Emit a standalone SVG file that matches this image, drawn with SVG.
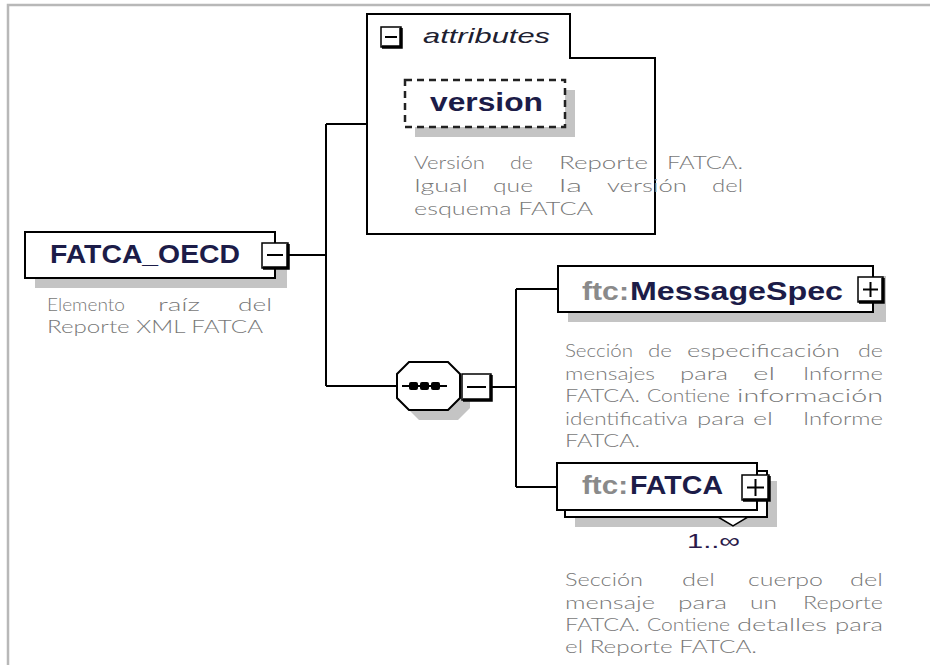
<svg xmlns="http://www.w3.org/2000/svg" width="930" height="665" viewBox="0 0 930 665">
<defs>
<style>
.frame{fill:none;stroke:#b8b8b8;stroke-width:2.5}
.box{fill:#fff;stroke:#000;stroke-width:2}
.shadow{fill:#c4c4c4;stroke:none}
.conn{fill:none;stroke:#000;stroke-width:2}
.btn{fill:#fff;stroke:#000;stroke-width:1.5}
.btnedge{fill:none;stroke:#000;stroke-width:3.5}
.sign{fill:none;stroke:#000;stroke-width:2}
.lbl{font-family:"Liberation Sans",Arial,sans-serif;font-weight:bold;font-size:25px;fill:#1c1c48}
.pfx{font-family:"Liberation Sans",Arial,sans-serif;font-weight:bold;font-size:25px;fill:#8a8a8a}
.it{font-family:"Liberation Sans",Arial,sans-serif;font-style:italic;font-size:21px;fill:#202030}
.card{font-family:"Liberation Sans",Arial,sans-serif;font-size:21px;fill:#2a1a4a}
.d{font-family:Lato,"Open Sans",sans-serif;font-weight:300;font-size:18px;fill:#787878}
</style>
</defs>

<path class="frame" d="M8,665 V5 H930"/>

<g id="connectors">
<path class="conn" d="M289,255 H326 M326,124 V386 M326,124 H367 M326,386 H397"/>
<path class="conn" d="M492,387 H516 M516,289 V487 M516,289 H558 M516,487 H557"/>
</g>

<g id="attributes">
<path class="box" d="M367,14 H570 V58 H655 V234 H367 Z"/>
<rect class="btn" x="381" y="27" width="20" height="20"/>
<path class="btnedge" d="M401,28 V47 H382"/>
<path class="sign" d="M385,37 H397"/>
<text class="it" x="423" y="43" textLength="127" lengthAdjust="spacingAndGlyphs">attributes</text>
</g>

<g id="version">
<rect class="shadow" x="415" y="90" width="160" height="47"/>
<rect x="405" y="80" width="160" height="47" fill="#fff" stroke="#222" stroke-width="2.5" stroke-dasharray="7,5"/>
<text class="lbl" x="430" y="111" textLength="113" lengthAdjust="spacingAndGlyphs">version</text>
<text class="d" x="414" y="169" textLength="71" lengthAdjust="spacingAndGlyphs">Versión</text>
<text class="d" x="510" y="169" textLength="23" lengthAdjust="spacingAndGlyphs">de</text>
<text class="d" x="559" y="169" textLength="89" lengthAdjust="spacingAndGlyphs">Reporte</text>
<text class="d" x="667" y="169" textLength="76" lengthAdjust="spacingAndGlyphs">FATCA.</text>
<text class="d" x="414" y="192" textLength="54" lengthAdjust="spacingAndGlyphs">Igual</text>
<text class="d" x="493" y="192" textLength="40" lengthAdjust="spacingAndGlyphs">que</text>
<text class="d" x="559" y="192" textLength="23" lengthAdjust="spacingAndGlyphs">la</text>
<text class="d" x="607" y="192" textLength="80" lengthAdjust="spacingAndGlyphs">versión</text>
<text class="d" x="712" y="192" textLength="31" lengthAdjust="spacingAndGlyphs">del</text>
<text class="d" x="414" y="215" textLength="179" lengthAdjust="spacingAndGlyphs">esquema FATCA</text>
</g>

<g id="FATCA_OECD">
<rect class="shadow" x="35" y="242" width="252" height="46"/>
<rect class="box" x="25" y="232" width="250" height="46"/>
<rect class="btn" x="262" y="243" width="26" height="25"/>
<path class="btnedge" d="M288,244 V268 H263"/>
<path class="sign" d="M267,255 H283"/>
<text class="lbl" x="50" y="263" textLength="190" lengthAdjust="spacingAndGlyphs">FATCA_OECD</text>
<text class="d" x="47" y="311" textLength="78" lengthAdjust="spacingAndGlyphs">Elemento</text>
<text class="d" x="158" y="311" textLength="42" lengthAdjust="spacingAndGlyphs">raíz</text>
<text class="d" x="238" y="311" textLength="34" lengthAdjust="spacingAndGlyphs">del</text>
<text class="d" x="47" y="333" textLength="216" lengthAdjust="spacingAndGlyphs">Reporte XML FATCA</text>
</g>

<g id="sequence">
<polygon class="shadow" points="419,372 458,372 470,384 470,408 458,420 419,420 407,408 407,384"/>
<polygon class="box" points="409,362 448,362 460,374 460,398 448,410 409,410 397,398 397,374"/>
<path class="conn" d="M402,386 H447"/>
<rect x="409" y="382" width="9" height="8" rx="2" fill="#000"/>
<rect x="420" y="382" width="9" height="8" rx="2" fill="#000"/>
<rect x="431" y="382" width="9" height="8" rx="2" fill="#000"/>
<rect class="btn" x="462" y="374" width="29" height="26"/>
<path class="btnedge" d="M491,375 V400 H463"/>
<path class="sign" d="M467,387 H486"/>
</g>

<g id="MessageSpec">
<rect class="shadow" x="568" y="276" width="318" height="46"/>
<rect class="box" x="558" y="266" width="315" height="46"/>
<rect class="btn" x="858" y="277" width="25" height="25"/>
<path class="btnedge" d="M883,278 V302 H859"/>
<path class="sign" d="M863,289.5 H878 M870.5,282 V297"/>
<text class="pfx" x="582" y="300" textLength="47" lengthAdjust="spacingAndGlyphs">ftc:</text>
<text class="lbl" x="630" y="300" textLength="213" lengthAdjust="spacingAndGlyphs">MessageSpec</text>
<text class="d" x="565" y="357" textLength="68" lengthAdjust="spacingAndGlyphs">Sección</text>
<text class="d" x="648" y="357" textLength="24" lengthAdjust="spacingAndGlyphs">de</text>
<text class="d" x="687" y="357" textLength="153" lengthAdjust="spacingAndGlyphs">especificación</text>
<text class="d" x="858" y="357" textLength="25" lengthAdjust="spacingAndGlyphs">de</text>
<text class="d" x="565" y="380" textLength="90" lengthAdjust="spacingAndGlyphs">mensajes</text>
<text class="d" x="680" y="380" textLength="48" lengthAdjust="spacingAndGlyphs">para</text>
<text class="d" x="753" y="380" textLength="22" lengthAdjust="spacingAndGlyphs">el</text>
<text class="d" x="803" y="380" textLength="80" lengthAdjust="spacingAndGlyphs">Informe</text>
<text class="d" x="565" y="402" textLength="75" lengthAdjust="spacingAndGlyphs">FATCA.</text>
<text class="d" x="647" y="402" textLength="83" lengthAdjust="spacingAndGlyphs">Contiene</text>
<text class="d" x="737" y="402" textLength="146" lengthAdjust="spacingAndGlyphs">información</text>
<text class="d" x="565" y="425" textLength="123" lengthAdjust="spacingAndGlyphs">identificativa</text>
<text class="d" x="697" y="425" textLength="48" lengthAdjust="spacingAndGlyphs">para</text>
<text class="d" x="753" y="425" textLength="20" lengthAdjust="spacingAndGlyphs">el</text>
<text class="d" x="803" y="425" textLength="80" lengthAdjust="spacingAndGlyphs">Informe</text>
<text class="d" x="565" y="447" textLength="75" lengthAdjust="spacingAndGlyphs">FATCA.</text>
</g>

<g id="FATCA">
<rect class="shadow" x="575" y="481" width="202" height="46"/>
<rect class="box" x="565" y="471" width="202" height="46"/>
<polygon points="718,517 733,526 748,517" fill="#fff" stroke="#000" stroke-width="1.5"/>
<rect class="box" x="557" y="463" width="200" height="47"/>
<rect class="btn" x="742" y="475" width="27" height="25"/>
<path class="btnedge" d="M769,476 V500 H743"/>
<path class="sign" d="M747,487.5 H764 M755.5,479 V496"/>
<text class="pfx" x="582" y="494" textLength="46" lengthAdjust="spacingAndGlyphs">ftc:</text>
<text class="lbl" x="630" y="494" textLength="93" lengthAdjust="spacingAndGlyphs">FATCA</text>
<text class="card" x="687" y="548" textLength="53" lengthAdjust="spacingAndGlyphs">1..∞</text>
<text class="d" x="565" y="586" textLength="78" lengthAdjust="spacingAndGlyphs">Sección</text>
<text class="d" x="682" y="586" textLength="33" lengthAdjust="spacingAndGlyphs">del</text>
<text class="d" x="748" y="586" textLength="75" lengthAdjust="spacingAndGlyphs">cuerpo</text>
<text class="d" x="850" y="586" textLength="33" lengthAdjust="spacingAndGlyphs">del</text>
<text class="d" x="565" y="609" textLength="90" lengthAdjust="spacingAndGlyphs">mensaje</text>
<text class="d" x="678" y="609" textLength="49" lengthAdjust="spacingAndGlyphs">para</text>
<text class="d" x="750" y="609" textLength="27" lengthAdjust="spacingAndGlyphs">un</text>
<text class="d" x="803" y="609" textLength="80" lengthAdjust="spacingAndGlyphs">Reporte</text>
<text class="d" x="565" y="631" textLength="75" lengthAdjust="spacingAndGlyphs">FATCA.</text>
<text class="d" x="647" y="631" textLength="83" lengthAdjust="spacingAndGlyphs">Contiene</text>
<text class="d" x="737" y="631" textLength="90" lengthAdjust="spacingAndGlyphs">detalles</text>
<text class="d" x="835" y="631" textLength="48" lengthAdjust="spacingAndGlyphs">para</text>
<text class="d" x="565" y="653" textLength="192" lengthAdjust="spacingAndGlyphs">el Reporte FATCA.</text>
</g>
</svg>
